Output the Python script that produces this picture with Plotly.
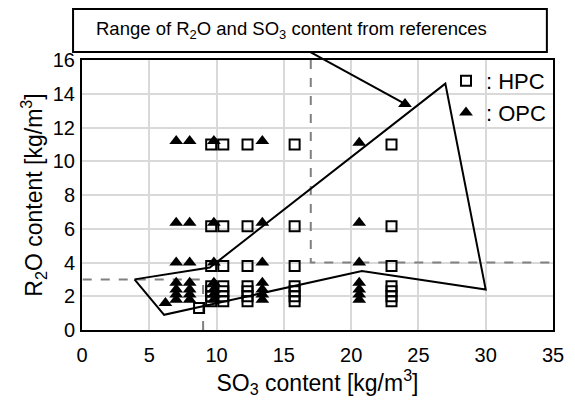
import plotly.graph_objects as go

# HPC specimens: SO3 content (x) and R2O content (y), kg/m3
hpc_so3 = [9.6, 10.5, 12.3, 15.8, 23.0,
           9.6, 10.5, 12.3, 15.8, 23.0,
           9.6, 10.5, 12.3, 15.8, 23.0,
           9.6, 10.5, 12.3, 15.8, 23.0,
           9.6, 10.5, 12.3, 15.8, 23.0,
           9.6, 10.5, 12.3, 15.8, 23.0,
           9.6, 10.5, 12.3, 15.8, 23.0,
           8.7]
hpc_r2o = [11.0, 11.0, 11.0, 11.0, 11.0,
           6.15, 6.15, 6.15, 6.15, 6.15,
           3.8, 3.8, 3.8, 3.8, 3.8,
           2.6, 2.6, 2.6, 2.6, 2.6,
           2.3, 2.3, 2.3, 2.3, 2.3,
           2.0, 2.0, 2.0, 2.0, 2.0,
           1.7, 1.7, 1.7, 1.7, 1.7,
           1.3]

# OPC specimens
opc_so3 = [7.0, 8.0, 9.8, 13.4, 20.6,
           7.0, 8.0, 9.8, 13.4, 20.6,
           7.0, 8.0, 9.8, 13.4, 20.6,
           7.0, 8.0, 9.8, 13.4, 20.6,
           7.0, 8.0, 9.8, 13.4, 20.6,
           7.0, 8.0, 9.8, 13.4, 20.6,
           7.0, 8.0, 9.8, 13.4, 20.6,
           6.2, 24.0]
opc_r2o = [11.2, 11.2, 11.2, 11.2, 11.1,
           6.35, 6.35, 6.35, 6.35, 6.35,
           4.0, 4.0, 4.0, 4.0, 4.0,
           2.8, 2.8, 2.8, 2.8, 2.8,
           2.4, 2.4, 2.4, 2.4, 2.4,
           2.1, 2.1, 2.1, 2.1, 2.1,
           1.8, 1.8, 1.8, 1.8, 1.8,
           1.6, 13.4]

# Outline of the R2O / SO3 range reported in the references
range_so3 = [3.9, 6.1, 20.8, 30.0, 27.0, 9.5, 3.9]
range_r2o = [3.0, 0.9, 3.5, 2.4, 14.6, 3.7, 3.0]

# Threshold guide lines (dashed)
low_so3 = [9.0, 9.0, 0.0]
low_r2o = [0.0, 3.0, 3.0]
high_so3 = [17.0, 17.0, 35.0]
high_r2o = [16.0, 4.0, 4.0]

# Point on the range outline that the callout refers to
callout_so3 = 24.0
callout_r2o = 13.4

x_range = [0, 35]
y_range = [0, 16]

FONT = "Liberation Sans, Arial, sans-serif"

fig = go.Figure()

fig.add_trace(go.Scatter(x=low_so3, y=low_r2o, mode="lines",
                         line=dict(color="#808080", width=2, dash="dash"),
                         showlegend=False, hoverinfo="skip"))
fig.add_trace(go.Scatter(x=high_so3, y=high_r2o, mode="lines",
                         line=dict(color="#808080", width=2, dash="dash"),
                         showlegend=False, hoverinfo="skip"))

fig.add_trace(go.Scatter(x=hpc_so3, y=hpc_r2o, mode="markers",
                         name='<span style="font-size:22px">: HPC</span>',
                         marker=dict(symbol="square-open", size=10, color="black",
                                     line=dict(width=2, color="black"))))
fig.add_trace(go.Scatter(x=opc_so3, y=opc_r2o, mode="markers",
                         name='<span style="font-size:22px">: OPC</span>',
                         marker=dict(symbol="triangle-up", size=12, color="black")))

fig.add_trace(go.Scatter(x=range_so3, y=range_r2o, mode="lines",
                         line=dict(color="black", width=2),
                         showlegend=False, hoverinfo="skip"))

# Callout box and its leader line
fig.add_shape(type="rect", xref="paper", yref="paper",
              x0=-0.019, x1=0.987, y0=1.03, y1=1.189,
              line=dict(color="black", width=2), fillcolor="white")
fig.add_annotation(xref="paper", yref="paper", x=0.026, y=1.11,
                   xanchor="left", yanchor="middle", showarrow=False,
                   text="Range of R<sub>2</sub>O and SO<sub>3</sub> content from references",
                   font=dict(family=FONT, size=18.5, color="black"))
fig.add_shape(type="line", xref="paper", yref="paper",
              x0=0.484, y0=1.03,
              x1=(callout_so3 - x_range[0]) / (x_range[1] - x_range[0]),
              y1=(callout_r2o - y_range[0]) / (y_range[1] - y_range[0]),
              line=dict(color="black", width=2))

axis_common = dict(showgrid=True, gridcolor="#d9d9d9", gridwidth=1.5,
                   showline=True, linecolor="black", linewidth=2, mirror=True,
                   zeroline=False, ticks="",
                   tickfont=dict(family=FONT, size=20, color="black"),
                   title_font=dict(family=FONT, size=23, color="black"))

fig.update_xaxes(range=x_range, dtick=5, tick0=0,
                 title_text="SO<sub>3</sub> content [kg/m<sup>3</sup>]",
                 title_standoff=0, ticklabelstandoff=6, **axis_common)
fig.update_yaxes(range=y_range, dtick=2, tick0=0,
                 title_text="R<sub>2</sub>O content [kg/m<sup>3</sup>]",
                 title_standoff=4, ticklabelstandoff=1, **axis_common)

fig.update_layout(
    width=575, height=401,
    margin=dict(l=82, r=22, t=60, b=71),
    paper_bgcolor="white", plot_bgcolor="white",
    font=dict(family=FONT, size=20, color="black"),
    legend=dict(x=(446 - 82) / 471, y=1 - (60 - 60) / 270,
                xanchor="left", yanchor="top",
                bgcolor="rgba(0,0,0,0)", borderwidth=0,
                font=dict(family=FONT, size=22, color="black")),
)

fig.write_html("out.html")
